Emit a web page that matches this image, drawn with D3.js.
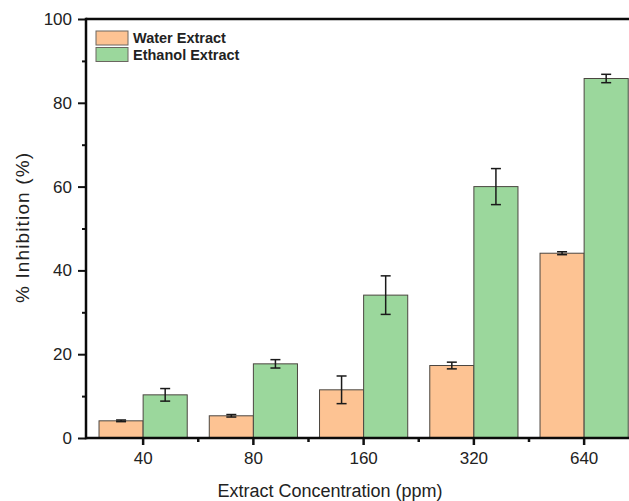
<!DOCTYPE html>
<html>
<head>
<meta charset="utf-8">
<script src="https://cdn.jsdelivr.net/npm/d3@7"></script>
<style>
  html, body { margin: 0; padding: 0; background: #fff; }
  svg { display: block; overflow: hidden; }
  text { font-family: "Liberation Sans", Arial, sans-serif; fill: #222; }
</style>
</head>
<body>
<div id="canvas"></div>
<script>
"use strict"

/* data */
let concentrations = ["40", "80", "160", "320", "640"];
let seriesNames = ["Water Extract", "Ethanol Extract"];
let waterMean = [4.1, 5.3, 11.5, 17.3, 44.1];
let waterErr = [0.2, 0.3, 3.3, 0.8, 0.35];
let ethanolMean = [10.3, 17.7, 34.1, 60.0, 85.8];
let ethanolErr = [1.5, 1.0, 4.6, 4.3, 1.0];
let yTicks = [0, 20, 40, 60, 80, 100];
let yMinorTicks = [10, 30, 50, 70, 90];

let svgWidth = 629;
let svgHeight = 501;

// plot frame (right side runs past the picture edge, as in the original)
let plotLeft = 86;
let plotTop = 19;
let plotBottom = 438;
let plotRight = 641;

let fills = ["#fdc393", "#9bd79c"];

let svg = d3.select("#canvas")
    .append("svg")
    .attr("width", svgWidth)
    .attr("height", svgHeight);

// scales
let xScale = d3.scaleBand()
    .domain(concentrations)
    .range([88, 88 + 5 * 110.25])
    .paddingInner(0.2)
    .paddingOuter(0.1);

let xSub = d3.scaleBand()
    .domain(seriesNames)
    .range([0, xScale.bandwidth()]);

let yScale = d3.scaleLinear()
    .domain([0, 100])
    .range([plotBottom, plotTop]);

// build rows for the bars
let rows = [];
for (let i = 0; i < concentrations.length; i++) {
    rows.push({ conc: concentrations[i], series: seriesNames[0], mean: waterMean[i], err: waterErr[i], k: 0 });
    rows.push({ conc: concentrations[i], series: seriesNames[1], mean: ethanolMean[i], err: ethanolErr[i], k: 1 });
}

// bars
svg.selectAll("rect.bar")
    .data(rows)
    .join("rect")
    .classed("bar", true)
    .attr("x", function(d) { return xScale(d.conc) + xSub(d.series); })
    .attr("y", function(d) { return yScale(d.mean); })
    .attr("width", xSub.bandwidth())
    .attr("height", function(d) { return yScale(0) - yScale(d.mean); })
    .attr("fill", function(d) { return fills[d.k]; })
    .attr("stroke", "#4b4640")
    .attr("stroke-width", 1);

// error bars
let errG = svg.append("g")
    .attr("stroke", "#1a1a1a")
    .attr("stroke-width", 1.5);

let capHalf = 5;
rows.forEach(function(d) {
    let cx = xScale(d.conc) + xSub(d.series) + xSub.bandwidth() / 2;
    let yHi = yScale(d.mean + d.err);
    let yLo = yScale(d.mean - d.err);
    errG.append("line").attr("x1", cx).attr("x2", cx).attr("y1", yHi).attr("y2", yLo);
    errG.append("line").attr("x1", cx - capHalf).attr("x2", cx + capHalf).attr("y1", yHi).attr("y2", yHi);
    errG.append("line").attr("x1", cx - capHalf).attr("x2", cx + capHalf).attr("y1", yLo).attr("y2", yLo);
});

// y axis major + minor
let yAxis = d3.axisLeft(yScale)
    .tickValues(yTicks)
    .tickSize(8)
    .tickPadding(6);

let yAxisG = svg.append("g")
    .attr("transform", "translate(" + plotLeft + ",0)")
    .call(yAxis);
yAxisG.select(".domain").remove();
yAxisG.selectAll(".tick line").attr("stroke", "#111").attr("stroke-width", 2);
yAxisG.selectAll(".tick text")
    .style("font-size", "17px")
    .style("font-family", "'Liberation Sans', Arial, sans-serif")
    .attr("fill", "#222");

let yMinorG = svg.append("g")
    .attr("transform", "translate(" + plotLeft + ",0)")
    .call(d3.axisLeft(yScale).tickValues(yMinorTicks).tickSize(4).tickFormat(""));
yMinorG.select(".domain").remove();
yMinorG.selectAll(".tick line").attr("stroke", "#111").attr("stroke-width", 2);

// x axis
let xAxis = d3.axisBottom(xScale)
    .tickSize(7)
    .tickPadding(7);

let xAxisG = svg.append("g")
    .attr("transform", "translate(0," + plotBottom + ")")
    .call(xAxis);
xAxisG.select(".domain").remove();
xAxisG.selectAll(".tick line").attr("stroke", "#111").attr("stroke-width", 2.5);
xAxisG.selectAll(".tick text")
    .style("font-size", "17px")
    .style("font-family", "'Liberation Sans', Arial, sans-serif")
    .attr("fill", "#222");

// minor x ticks between the groups
let step = xScale.step();
for (let i = 0; i < concentrations.length - 1; i++) {
    let mx = xScale(concentrations[i]) + xScale.bandwidth() / 2 + step / 2;
    svg.append("line")
        .attr("x1", mx).attr("x2", mx)
        .attr("y1", plotBottom).attr("y2", plotBottom + 4)
        .attr("stroke", "#111")
        .attr("stroke-width", 2.5);
}

// frame: left, bottom, top
let frame = svg.append("g")
    .attr("stroke", "#0a0a0a")
    .attr("stroke-width", 2.5)
    .attr("fill", "none");
frame.append("line").attr("x1", plotLeft).attr("x2", plotLeft).attr("y1", plotTop - 1.25).attr("y2", plotBottom + 1.25);
frame.append("line").attr("x1", plotLeft).attr("x2", plotRight).attr("y1", plotBottom).attr("y2", plotBottom);
frame.append("line").attr("x1", plotLeft).attr("x2", plotRight).attr("y1", plotTop).attr("y2", plotTop);

// axis titles
svg.append("text")
    .attr("x", 330)
    .attr("y", 497)
    .attr("text-anchor", "middle")
    .style("font-size", "18px")
    .text("Extract Concentration (ppm)");

svg.append("text")
    .attr("transform", "translate(29," + 228 + ") rotate(-90)")
    .attr("text-anchor", "middle")
    .style("font-size", "19px")
    .attr("textLength", 150)
    .text("% Inhibition (%)");

// legend
let legendX = 96;
let legendY = 31;
for (let i = 0; i < seriesNames.length; i++) {
    let itemY = legendY + i * 16.5;
    svg.append("rect")
        .attr("x", legendX)
        .attr("y", itemY)
        .attr("width", 32)
        .attr("height", 14)
        .attr("fill", fills[i])
        .attr("stroke", "#6b6660")
        .attr("stroke-width", 1);
    svg.append("text")
        .attr("x", legendX + 37)
        .attr("y", itemY + 12)
        .style("font-size", "14.5px")
        .style("font-weight", "bold")
        .attr("fill", "#111")
        .text(seriesNames[i]);
}
</script>
</body>
</html>
